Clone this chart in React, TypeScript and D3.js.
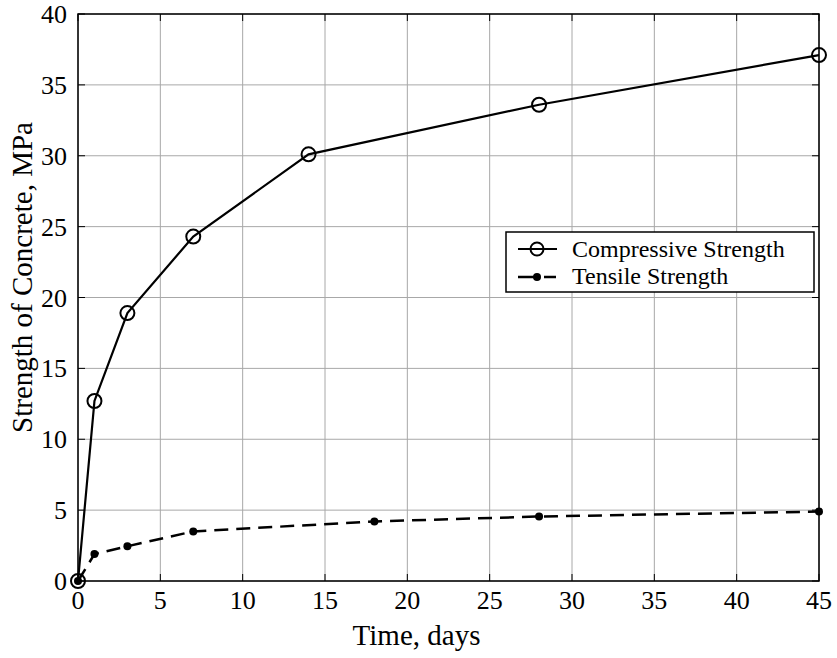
import React from "react";
import * as d3 from "d3";

const compDays = [0, 1, 3, 7, 14, 28, 45];
const compValues = [0, 12.7, 18.9, 24.3, 30.1, 33.6, 37.1];
const tensDays = [0, 1, 3, 7, 18, 28, 45];
const tensValues = [0, 1.9, 2.45, 3.5, 4.2, 4.55, 4.9];
const xTicks = [0, 5, 10, 15, 20, 25, 30, 35, 40, 45];
const yTicks = [0, 5, 10, 15, 20, 25, 30, 35, 40];
const seriesNames = ["Compressive Strength", "Tensile Strength"];

const W = 837, H = 658;
const L = 78, R = 819, T = 14, B = 581;
const FONT = "'Liberation Serif', 'Times New Roman', serif";

export default function App() {
  const x = d3.scaleLinear().domain([0, 45]).range([L, R]);
  const y = d3.scaleLinear().domain([0, 40]).range([B, T]);
  const line = d3.line<[number, number]>().x(d => x(d[0])).y(d => y(d[1]));
  const comp = compDays.map((d, i) => [d, compValues[i]] as [number, number]);
  const tens = tensDays.map((d, i) => [d, tensValues[i]] as [number, number]);
  const tick = 7;
  const lgX = 506, lgY = 232, lgW = 308, lgH = 60;
  return (
    <svg width={W} height={H} style={{ position: "absolute", left: 0, top: 0, background: "#fff" }}>
      <rect x={0} y={0} width={W} height={H} fill="#fff" />
      {xTicks.map(t => (
        <line key={"gx" + t} x1={x(t)} x2={x(t)} y1={T} y2={B} stroke="#a8a8a8" strokeWidth={1} />
      ))}
      {yTicks.map(t => (
        <line key={"gy" + t} x1={L} x2={R} y1={y(t)} y2={y(t)} stroke="#a8a8a8" strokeWidth={1} />
      ))}
      {xTicks.map(t => (
        <g key={"tx" + t}>
          <line x1={x(t)} x2={x(t)} y1={B} y2={B - tick} stroke="#000" strokeWidth={1} />
          <line x1={x(t)} x2={x(t)} y1={T} y2={T + tick} stroke="#000" strokeWidth={1} />
          <text x={x(t)} y={609} textAnchor="middle" fontFamily={FONT} fontSize={26}>{t}</text>
        </g>
      ))}
      {yTicks.map(t => (
        <g key={"ty" + t}>
          <line x1={L} x2={L + tick} y1={y(t)} y2={y(t)} stroke="#000" strokeWidth={1} />
          <line x1={R} x2={R - tick} y1={y(t)} y2={y(t)} stroke="#000" strokeWidth={1} />
          <text x={L - 11} y={y(t) + 9} textAnchor="end" fontFamily={FONT} fontSize={26}>{t}</text>
        </g>
      ))}
      <rect x={L} y={T} width={R - L} height={B - T} fill="none" stroke="#000" strokeWidth={1.5} />
      <path d={line(tens) || ""} fill="none" stroke="#000" strokeWidth={2.5} strokeDasharray="14,8" />
      {tens.map((d, i) => (
        <circle key={"tp" + i} cx={x(d[0])} cy={y(d[1])} r={4} fill="#000" />
      ))}
      <path d={line(comp) || ""} fill="none" stroke="#000" strokeWidth={2.2} />
      {comp.map((d, i) => (
        <circle key={"cp" + i} cx={x(d[0])} cy={y(d[1])} r={7} fill="none" stroke="#000" strokeWidth={2} />
      ))}
      <g>
        <rect x={lgX} y={lgY} width={lgW} height={lgH} fill="#fff" stroke="#000" strokeWidth={1.5} />
        <line x1={lgX + 12} x2={lgX + 51} y1={lgY + 17} y2={lgY + 17} stroke="#000" strokeWidth={2.2} />
        <circle cx={lgX + 31} cy={lgY + 17} r={6.5} fill="none" stroke="#000" strokeWidth={2} />
        <text x={lgX + 66} y={lgY + 25} fontFamily={FONT} fontSize={24}>{seriesNames[0]}</text>
        <line x1={lgX + 12} x2={lgX + 51} y1={lgY + 45} y2={lgY + 45} stroke="#000" strokeWidth={2.5} strokeDasharray="17,5,0,4,12" />
        <circle cx={lgX + 31} cy={lgY + 45} r={4} fill="#000" />
        <text x={lgX + 66} y={lgY + 52} fontFamily={FONT} fontSize={24}>{seriesNames[1]}</text>
      </g>
      <text x={416.5} y={645} textAnchor="middle" fontFamily={FONT} fontSize={29}>Time, days</text>
      <text transform={`translate(32, 277.5) rotate(-90)`} textAnchor="middle" fontFamily={FONT} fontSize={29}>Strength of Concrete, MPa</text>
    </svg>
  );
}
